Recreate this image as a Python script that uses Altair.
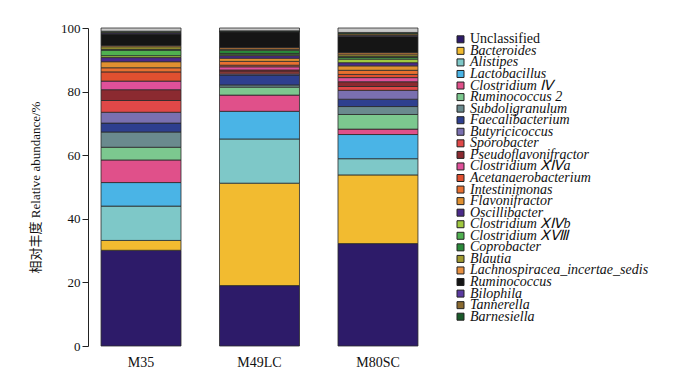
import altair as alt
import pandas as pd

samples = ["M35", "M49LC", "M80SC"]

taxa = [
    "Unclassified", "Bacteroides", "Alistipes", "Lactobacillus", "Clostridium Ⅳ",
    "Ruminococcus 2", "Subdoligranulum", "Faecalibacterium", "Butyricicoccus",
    "Sporobacter", "Pseudoflavonifractor", "Clostridium ⅩⅣa", "Acetanaerobacterium",
    "Intestinimonas", "Flavonifractor", "Oscillibacter", "Clostridium ⅩⅣb",
    "Clostridium ⅩⅧ", "Coprobacter", "Blautia", "Lachnospiracea_incertae_sedis",
    "Ruminococcus", "Bilophila", "Tannerella", "Barnesiella",
]

colors = [
    "#2d1b69", "#f2bb30", "#7ec8c8", "#4ab4e6", "#e0508a",
    "#7cc88f", "#6a8a8e", "#2e3f8f", "#7a70b0",
    "#e04848", "#8b2a30", "#e0509a", "#e05030",
    "#e87030", "#e09030", "#4a2a8a", "#a0c840",
    "#50b050", "#2a8a3a", "#a09a30", "#e89040",
    "#151515", "#5a3aa0", "#8a6a30", "#1a5a2a",
]

m35 = [30.1, 3.1, 10.8, 7.4, 7.1, 4.0, 4.8, 2.8, 3.4, 3.7, 3.4, 2.7, 2.9,
       1.3, 1.9, 1.3, 0.6, 1.7, 0.3, 0.8, 0.4, 3.6, 0.3, 0.3, 0.3]
m49lc = [19.0, 32.2, 13.9, 8.7, 5.1, 2.5, 0.7, 3.1, 0.4, 0.6, 0.6, 1.0, 0.5,
         1.2, 1.0, 0.8, 0.3, 0.4, 1.0, 0.3, 0.5, 5.0, 0.1, 0.1, 0.1]
m80sc = [32.2, 21.6, 5.1, 7.6, 1.7, 4.6, 2.5, 2.3, 2.8, 1.2, 1.5, 1.3, 1.0,
         1.3, 1.4, 1.0, 1.1, 0.5, 0.3, 0.6, 0.6, 5.2, 0.3, 0.5, 0.4]

others_name = "Others"
others = [1.0, 0.9, 1.4]
others_color = "#c9c9c9"

rows = []
for s, vals, oth in zip(samples, [m35, m49lc, m80sc], others):
    for i, (t, v) in enumerate(zip(taxa, vals)):
        rows.append({"sample": s, "taxon": t, "value": v, "idx": i})
    rows.append({"sample": s, "taxon": others_name, "value": oth, "idx": len(taxa)})
df = pd.DataFrame(rows)
legend_df = pd.DataFrame({"taxon": taxa})

font = "Liberation Serif"
title_font = "Liberation Serif, 'Noto Sans CJK SC'"

color_scale = alt.Scale(domain=taxa + [others_name], range=colors + [others_color])

bars = alt.Chart(df).mark_bar(stroke="#2b2b2b", strokeWidth=0.8).encode(
    x=alt.X(
        "sample:N", sort=samples, title=None,
        scale=alt.Scale(paddingInner=0.325, paddingOuter=0.11),
        axis=alt.Axis(domain=False, ticks=False, labelAngle=0, labelFont=font,
                      labelFontSize=14, labelColor="#111", labelPadding=9),
    ),
    y=alt.Y(
        "value:Q", stack="zero", scale=alt.Scale(domain=[0, 100], nice=False),
        title="相对丰度 Relative abundance/%",
        axis=alt.Axis(values=[0, 20, 40, 60, 80, 100], grid=False, tickSize=6,
                      domainColor="#222", tickColor="#222", labelFont=font,
                      labelFontSize=13, labelColor="#111", labelPadding=2,
                      titleFont=title_font, titleFontSize=13, titleFontWeight="normal",
                      titleColor="#111", titlePadding=18),
    ),
    color=alt.Color("taxon:N", scale=color_scale, legend=None),
    order=alt.Order("idx:Q", sort="ascending"),
)

leg_y = alt.Y("taxon:N", axis=None,
              scale=alt.Scale(type="point", domain=taxa, range=[11.3, 288.7], padding=0))

leg_sym = alt.Chart(legend_df).mark_square(size=49, stroke="#222", strokeWidth=1, opacity=1).encode(
    x=alt.value(372.5), y=leg_y,
    color=alt.Color("taxon:N", scale=color_scale, legend=None),
)

leg_txt_plain = alt.Chart(legend_df).transform_filter(
    alt.datum.taxon == "Unclassified"
).mark_text(align="left", baseline="middle", font=font, fontSize=14, color="#111").encode(
    x=alt.value(382), y=leg_y, text="taxon:N",
)

leg_txt_ital = alt.Chart(legend_df).transform_filter(
    alt.datum.taxon != "Unclassified"
).mark_text(align="left", baseline="middle", font=font, fontSize=14, fontStyle="italic",
            color="#111").encode(
    x=alt.value(382), y=leg_y, text="taxon:N",
)

chart = alt.layer(bars, leg_sym, leg_txt_plain, leg_txt_ital).resolve_scale(
    y="independent"
).properties(
    width=343, height=318,
    autosize=alt.AutoSizeParams(type="none"),
    padding={"left": 80, "top": 20, "right": 261, "bottom": 26},
).configure_view(stroke=None)

chart.save("out.html", embed_options={"renderer": "svg", "actions": False})
